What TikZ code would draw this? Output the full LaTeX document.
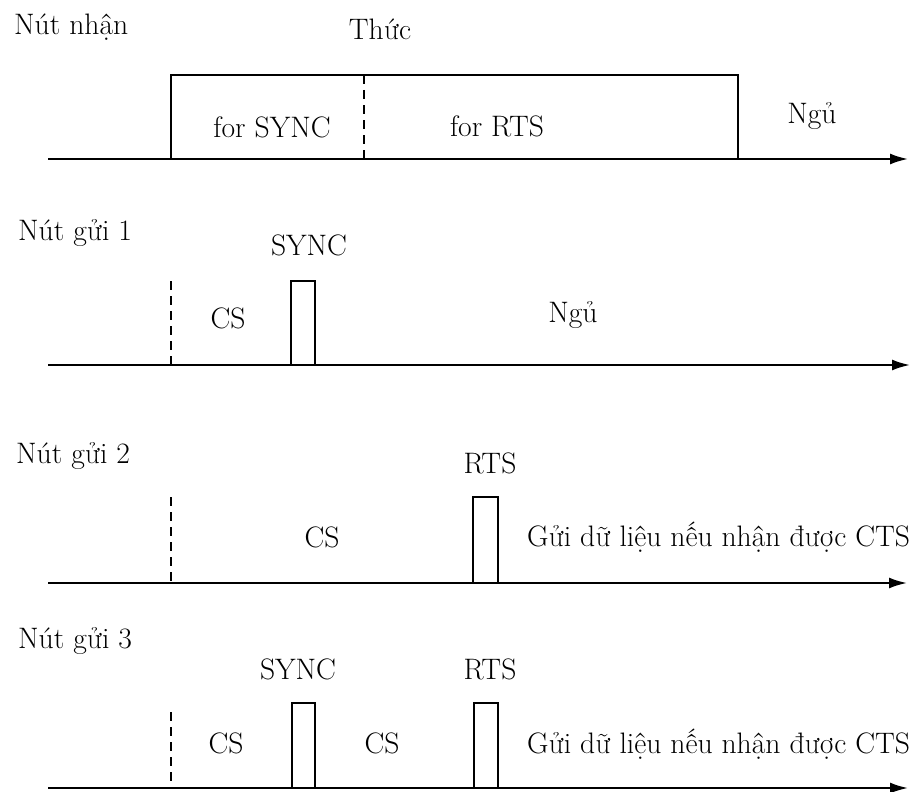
\documentclass[tikz,border=0pt]{standalone}
\usepackage{fontspec}
\usetikzlibrary{arrows.meta}
\begin{document}
\begin{tikzpicture}[x=1pt,y=-1pt,
  lbl/.style={font=\fontsize{29.6}{34}\selectfont, inner sep=0pt, anchor=base},
  lblw/.style={lbl, anchor=base west},
  axisline/.style={line width=2pt,-{Latex[length=18pt,width=11pt]}},
  pulse/.style={line width=1.6pt},
  guide/.style={line width=1.6pt,dash pattern=on 9pt off 6pt}]
\useasboundingbox (0,0) rectangle (924,792);
% ---------- Row 1: receiver ----------
\node[lblw] (n0) at (14,35) {Nút nhận};
\node[lbl] (thuc) at (380,40) {Thức};
\coordinate (a1s) at (48,159);
\coordinate (a1e) at (908,159);
\draw[axisline] (a1s) -- (a1e);
\draw[pulse] (171,159) |- (738,75) -- (738,159);
\coordinate (g1t) at (364,75);
\coordinate (g1b) at (364,159);
\draw[guide] (g1t) -- (g1b);
\node[lbl] (fsync) at (272,137) {for SYNC};
\node[lbl] (frts) at (497,136) {for RTS};
\node[lbl] (ngu1) at (812,123) {Ngủ};
% ---------- Row 2: sender 1 ----------
\node[lblw] (n1) at (18,240) {Nút gửi 1};
\coordinate (a2s) at (48,365);
\coordinate (a2e) at (910,365);
\draw[axisline] (a2s) -- (a2e);
\coordinate (g2t) at (171,281);
\coordinate (g2b) at (171,365);
\draw[guide] (g2t) -- (g2b);
\draw[pulse] (291,365) |- (315,281) -- (315,365);
\node[lbl] (sync2) at (309,255) {SYNC};
\node[lbl] (cs2) at (228,328) {CS};
\node[lbl] (ngu2) at (573,322) {Ngủ};
% ---------- Row 3: sender 2 ----------
\node[lblw] (n2) at (16,463) {Nút gửi 2};
\coordinate (a3s) at (48,583);
\coordinate (a3e) at (907,583);
\draw[axisline] (a3s) -- (a3e);
\coordinate (g3t) at (171,497);
\coordinate (g3b) at (171,583);
\draw[guide] (g3t) -- (g3b);
\draw[pulse] (473,583) |- (498,497) -- (498,583);
\node[lbl] (rts3) at (490,473) {RTS};
\node[lbl] (cs3) at (322,547) {CS};
\node[lblw] (send3) at (527,546) {Gửi dữ liệu nếu nhận được CTS};
% ---------- Row 4: sender 3 ----------
\node[lblw] (n3) at (18,648) {Nút gửi 3};
\coordinate (a4s) at (48,788);
\coordinate (a4e) at (908,788);
\draw[axisline] (a4s) -- (a4e);
\coordinate (g4t) at (171,712);
\coordinate (g4b) at (171,788);
\draw[guide] (g4t) -- (g4b);
\draw[pulse] (292,788) |- (315,703) -- (315,788);
\draw[pulse] (474,788) |- (498,703) -- (498,788);
\node[lbl] (sync4) at (298,679) {SYNC};
\node[lbl] (rts4) at (490,679) {RTS};
\node[lbl] (cs4a) at (226,753) {CS};
\node[lbl] (cs4b) at (382,753) {CS};
\node[lblw] (send4) at (527,753) {Gửi dữ liệu nếu nhận được CTS};
\end{tikzpicture}
\end{document}
